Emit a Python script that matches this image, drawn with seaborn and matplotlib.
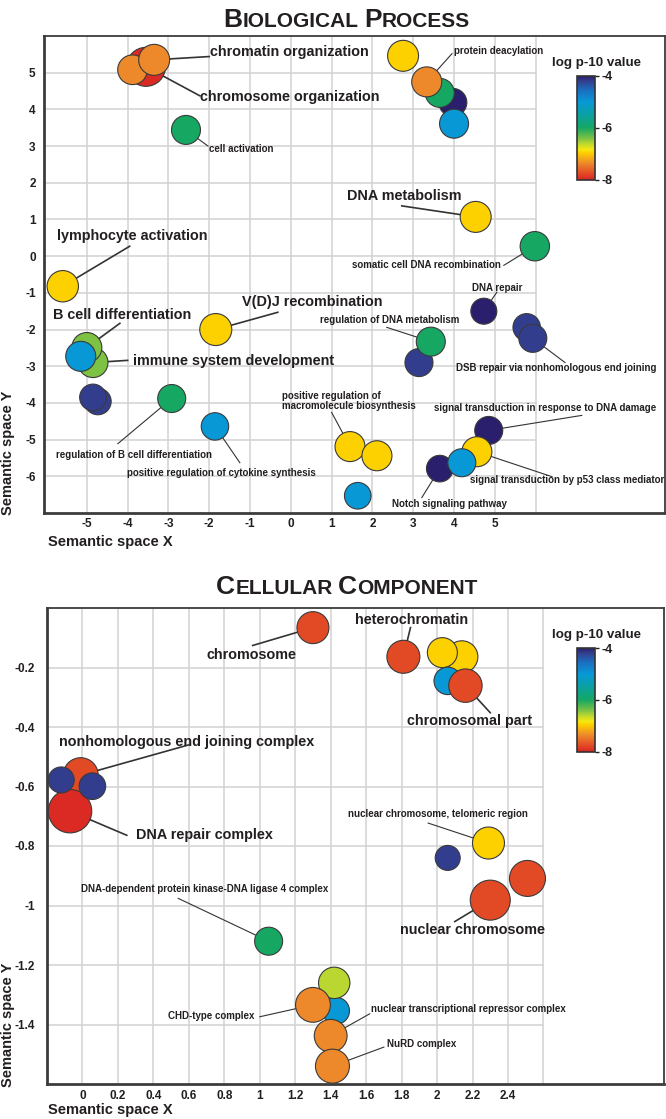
import numpy as np
import pandas as pd
import matplotlib
matplotlib.use("Agg")
import matplotlib.pyplot as plt
import seaborn as sns
from matplotlib.colors import LinearSegmentedColormap, Normalize
from matplotlib.cm import ScalarMappable
from matplotlib.transforms import IdentityTransform

plt.rcParams['font.family'] = ['Liberation Sans', 'DejaVu Sans']
plt.rcParams['font.weight'] = 'bold'
plt.rcParams['axes.unicode_minus'] = False

TXT = '#231f20'

# ---------------- Biological Process data ----------------
bp_term = ["chromosome organization", "bp_orange_a", "chromatin organization", "bp_yellow_a",
           "bp_navy_a", "bp_green_a", "protein deacylation", "bp_blue_a", "cell activation",
           "DNA metabolism", "somatic cell DNA recombination", "lymphocyte activation",
           "DNA repair", "bp_navy_b", "DSB repair via nonhomologous end joining",
           "V(D)J recombination", "bp_navy_c", "regulation of DNA metabolism",
           "immune system development", "B cell differentiation", "bp_blue_b",
           "bp_navy_d", "bp_navy_e", "regulation of B cell differentiation",
           "positive regulation of cytokine synthesis",
           "positive regulation of macromolecule biosynthesis", "bp_yellow_b", "bp_blue_c",
           "signal transduction in response to DNA damage",
           "signal transduction by p53 class mediator", "Notch signaling pathway", "bp_blue_d"]
bp_x = [-3.55, -3.88, -3.35, 2.75, 3.97, 3.65, 3.33, 4.00, -2.57, 4.53, 5.98, -5.59,
        4.73, 5.78, 5.93, -1.84, 3.14, 3.43, -4.85, -5.00, -5.15, -4.73, -4.85, -2.92,
        -1.86, 1.45, 2.11, 1.64, 4.85, 4.56, 3.65, 4.19]
bp_y = [5.16, 5.08, 5.35, 5.46, 4.19, 4.45, 4.75, 3.61, 3.44, 1.07, 0.27, -0.82,
        -1.50, -1.94, -2.24, -2.00, -2.90, -2.33, -2.90, -2.49, -2.73, -3.96, -3.85, -3.88,
        -4.64, -5.19, -5.44, -6.53, -4.75, -5.33, -5.79, -5.63]
bp_logp = [-7.95, -7.35, -7.35, -6.95, -4.0, -6.0, -7.35, -5.0, -6.0, -6.95, -6.0, -6.95,
           -4.0, -4.2, -4.2, -6.95, -4.2, -6.0, -6.4, -6.4, -5.0, -4.2, -4.2, -6.0,
           -5.0, -6.95, -6.95, -5.0, -4.0, -6.95, -4.0, -5.0]
bp_freq = [3.80, 2.20, 2.40, 2.40, 1.96, 2.10, 2.25, 2.10, 2.10, 2.40, 2.16, 2.46,
           1.69, 1.88, 1.96, 2.56, 1.96, 2.10, 2.25, 2.25, 2.25, 1.77, 1.77, 1.96,
           1.88, 2.25, 2.25, 1.77, 1.96, 2.25, 1.77, 1.96]

# label: term index, text, text pos, line start, big?
bp_lab_idx = [2, 0, 6, 8, 9, 10, 11, 12, 15, 17, 19, 18, 14, 25, 28, 23, 24, 29, 30]
bp_lab_text = ["chromatin organization", "chromosome organization", "protein deacylation",
               "cell activation", "DNA metabolism", "somatic cell DNA recombination",
               "lymphocyte activation", "DNA repair", "V(D)J recombination",
               "regulation of DNA metabolism", "B cell differentiation",
               "immune system development", "DSB repair via nonhomologous end joining",
               "positive regulation of\nmacromolecule biosynthesis",
               "signal transduction in response to DNA damage",
               "regulation of B cell differentiation",
               "positive regulation of cytokine synthesis",
               "signal transduction by p53 class mediator", "Notch signaling pathway"]
bp_lab_pos = [(-1.99, 5.57), (-2.23, 4.34), (4.00, 5.60), (-2.01, 2.92), (1.37, 1.64),
              (1.50, -0.25), (-5.74, 0.55), (4.44, -0.87), (-1.20, -1.26), (0.71, -1.75),
              (-5.83, -1.60), (-3.87, -2.87), (4.04, -3.04), (-0.22, -3.96), (3.50, -4.13),
              (-5.76, -5.41), (-4.02, -5.90), (4.39, -6.09), (2.48, -6.75)]
bp_lab_line = [(-2.00, 5.44), (-2.23, 4.37), (3.95, 5.52), (-2.03, 3.00), (2.72, 1.37),
               (5.22, -0.25), (-3.95, 0.27), (5.05, -0.98), (-0.32, -1.53), (2.35, -1.94),
               (-4.19, -1.83), (-4.00, -2.84), (6.72, -2.90), (1.00, -4.26), (7.13, -4.34),
               (-4.24, -5.11), (-1.25, -5.63), (6.40, -6.01), (3.21, -6.58)]
bp_lab_big = [True, True, False, False, True, False, True, False, True, False,
              True, True, False, False, False, False, False, False, False]

# ---------------- Cellular Component data ----------------
cc_term = ["chromosome", "heterochromatin", "cc_yellow_a", "cc_yellow_b", "cc_blue_a",
           "chromosomal part", "nonhomologous end joining complex", "DNA repair complex",
           "cc_navy_a", "cc_navy_b", "nuclear chromosome, telomeric region", "cc_navy_c",
           "cc_red_a", "nuclear chromosome", "DNA-dependent protein kinase-DNA ligase 4 complex",
           "cc_blue_b", "cc_ygreen_a", "CHD-type complex",
           "nuclear transcriptional repressor complex", "NuRD complex"]
cc_x = [1.30, 1.81, 2.14, 2.03, 2.06, 2.16, -0.01, -0.07, -0.12, 0.056, 2.29, 2.06,
        2.51, 2.30, 1.05, 1.43, 1.42, 1.30, 1.40, 1.41]
cc_y = [-0.066, -0.164, -0.164, -0.150, -0.245, -0.261, -0.562, -0.683, -0.578, -0.599,
        -0.790, -0.840, -0.909, -0.982, -1.120, -1.354, -1.260, -1.334, -1.438, -1.540]
cc_logp = [-7.75, -7.75, -6.95, -6.95, -5.0, -7.75, -7.75, -7.95, -4.2, -4.2, -6.95,
           -4.2, -7.75, -7.75, -6.0, -5.0, -6.6, -7.35, -7.35, -7.35]
cc_freq = [2.56, 2.72, 2.56, 2.25, 1.88, 2.79, 3.06, 4.71, 1.69, 1.77, 2.56, 1.56,
           3.24, 4.00, 1.96, 1.82, 2.46, 3.03, 2.69, 2.89]

cc_lab_idx = [0, 1, 5, 6, 7, 10, 14, 13, 17, 18, 19]
cc_lab_text = ["chromosome", "heterochromatin", "chromosomal part",
               "nonhomologous end joining complex", "DNA repair complex",
               "nuclear chromosome, telomeric region",
               "DNA-dependent protein kinase-DNA ligase 4 complex", "nuclear chromosome",
               "CHD-type complex", "nuclear transcriptional repressor complex", "NuRD complex"]
cc_lab_pos = [(0.70, -0.157), (1.54, -0.039), (1.83, -0.379), (-0.13, -0.450),
              (0.30, -0.764), (1.50, -0.693), (-0.006, -0.946), (1.79, -1.084),
              (0.48, -1.371), (1.63, -1.347), (1.72, -1.465)]
cc_lab_line = [(0.96, -0.126), (1.85, -0.066), (2.30, -0.352), (0.60, -0.460),
               (0.25, -0.764), (1.95, -0.723), (0.54, -0.976), (2.10, -1.054),
               (1.00, -1.374), (1.62, -1.364), (1.70, -1.476)]
cc_lab_big = [True, True, True, True, True, False, False, True, False, False, False]

# colour scale (log p-10 value)
cmap_vals = [-8.0, -7.75, -7.35, -6.95, -6.82, -6.6, -6.4, -6.0, -5.5, -5.0, -4.55, -4.2, -4.0]
cmap_cols = ['#d92323', '#e24a26', '#ed8a2b', '#fdd000', '#f5e80f', '#b9d631', '#7dc242',
             '#16a862', '#0aa0a0', '#0899d6', '#1a6fc0', '#33408f', '#2a1f6c']
VMIN, VMAX = -8.0, -4.0
cmap = LinearSegmentedColormap.from_list(
    'revigo', [((v - VMIN) / (VMAX - VMIN), c) for v, c in zip(cmap_vals, cmap_cols)])

W, H = 666, 1119
fig = plt.figure(figsize=(W / 100, H / 100), dpi=100)


def fx(px):
    return px / W


def fy(py):
    return 1 - py / H


def smallcaps(words, xc, yb, big=19, small=15):
    r = fig.canvas.get_renderer()
    pieces = []
    for wi, w in enumerate(words):
        pieces.append((w[0].upper(), big))
        pieces.append((w[1:].upper(), small))
        if wi < len(words) - 1:
            pieces.append((' ', small))
    texts, widths = [], []
    for s, fs in pieces:
        if s == ' ':
            texts.append(None)
            widths.append(0.278 * fs * 100 / 72)
            continue
        t = fig.text(0, H - yb, s, fontsize=fs, weight='bold', color=TXT,
                     transform=IdentityTransform(), ha='left', va='baseline')
        texts.append(t)
        widths.append(t.get_window_extent(r).width)
    x = xc - sum(widths) / 2
    for t, w in zip(texts, widths):
        if t is not None:
            t.set_x(x)
        x += w


def panel(rect, xs, ys, logp, freq, xlim, ylim, vgrid, hgrid, xticks, yticks,
          lab_idx, lab_text, lab_pos, lab_line, lab_big, ypad, xpad):
    ax = fig.add_axes(rect)
    df = pd.DataFrame({'x': xs, 'y': ys, 'logp': logp, 'freq': freq})
    for v in vgrid:
        ax.plot([v, v], [ylim[0], ylim[1]], color='#d2d2d2', lw=1.1, zorder=0.5)
    for h in hgrid:
        ax.plot([xlim[0], vgrid[-1]], [h, h], color='#d2d2d2', lw=1.1, zorder=0.5)
    sns.scatterplot(data=df, x='x', y='y', hue='logp', palette=cmap, hue_norm=(VMIN, VMAX),
                    size='freq', sizes=(0, 1036.8), size_norm=(0, 5), edgecolor='#3a3a3a',
                    linewidth=0.8, legend=False, ax=ax, zorder=3)
    for i, t, (tx, ty), (sx, sy), big in zip(lab_idx, lab_text, lab_pos, lab_line, lab_big):
        ax.plot([sx, xs[i]], [sy, ys[i]], color='#333333', lw=1.2 if big else 0.8, zorder=2)
        ax.text(tx, ty, t, ha='left', va='center', fontsize=10.4 if big else 7,
                color=TXT, zorder=4, linespacing=1.0)
    ax.set_xlim(*xlim)
    ax.set_ylim(*ylim)
    ax.set_xlabel('')
    ax.set_ylabel('')
    ax.set_xticks(xticks)
    ax.set_xticklabels([f"{v:g}" for v in xticks])
    ax.set_yticks(yticks)
    ax.set_yticklabels([f"{v:g}" for v in yticks])
    ax.tick_params(axis='both', length=0, labelsize=8.5, colors=TXT)
    ax.tick_params(axis='y', pad=ypad)
    ax.tick_params(axis='x', pad=xpad)
    for s in ['top', 'right']:
        ax.spines[s].set_linewidth(1.3)
        ax.spines[s].set_color('#3c3c3c')
    for s in ['left', 'bottom']:
        ax.spines[s].set_linewidth(2.0)
        ax.spines[s].set_color('#3c3c3c')
    return ax


def colorbar(y_top, y_bot, title_y):
    cax = fig.add_axes([fx(577), fy(y_bot), fx(595) - fx(577), fy(y_top) - fy(y_bot)])
    cb = fig.colorbar(ScalarMappable(norm=Normalize(VMIN, VMAX), cmap=cmap), cax=cax)
    cb.set_ticks([-4, -6, -8])
    cb.set_ticklabels(['-4', '-6', '-8'])
    cax.tick_params(length=3, width=1, labelsize=9, pad=2, colors=TXT)
    cb.outline.set_linewidth(1.2)
    cb.outline.set_edgecolor('#333333')
    fig.text(fx(596), fy(title_y), 'log p-10 value', ha='center', va='center',
             fontsize=9.6, weight='bold', color=TXT)


# ---- top panel ----
panel([fx(44), fy(513), fx(665) - fx(44), fy(36) - fy(513)], bp_x, bp_y, bp_logp, bp_freq,
      (-6.05, 9.17), (-7.0, 6.0), list(range(-5, 7)), list(range(-6, 6)),
      list(range(-5, 6)), list(range(-6, 6)),
      bp_lab_idx, bp_lab_text, bp_lab_pos, bp_lab_line, bp_lab_big, 6, 3.5)
colorbar(76, 180, 63)
smallcaps(["Biological", "Process"], 347, 27)
fig.text(fx(48), fy(542), 'Semantic space X', ha='left', va='center', fontsize=10.5,
         weight='bold', color=TXT)
fig.text(fx(8), fy(515), 'Semantic space Y', ha='center', va='bottom', rotation=90,
         fontsize=10.5, weight='bold', color=TXT)

# ---- bottom panel ----
cc_xt = [round(v, 1) for v in np.arange(0, 2.41, 0.2)]
cc_yt = [round(v, 1) for v in np.arange(-0.2, -1.41, -0.2)]
cc_vg = [round(v, 1) for v in np.arange(0, 2.61, 0.2)]
panel([fx(47), fy(1084), fx(664) - fx(47), fy(608) - fy(1084)], cc_x, cc_y, cc_logp, cc_freq,
      (-0.2, 3.28), (-1.6, 0.0), cc_vg, cc_yt, cc_xt, cc_yt,
      cc_lab_idx, cc_lab_text, cc_lab_pos, cc_lab_line, cc_lab_big, 8.5, 4)
colorbar(648, 752, 635)
smallcaps(["Cellular", "Component"], 347, 594)
fig.text(fx(48), fy(1110), 'Semantic space X', ha='left', va='center', fontsize=10.5,
         weight='bold', color=TXT)
fig.text(fx(8), fy(1087), 'Semantic space Y', ha='center', va='bottom', rotation=90,
         fontsize=10.5, weight='bold', color=TXT)

fig.savefig('out.png', dpi=100)
